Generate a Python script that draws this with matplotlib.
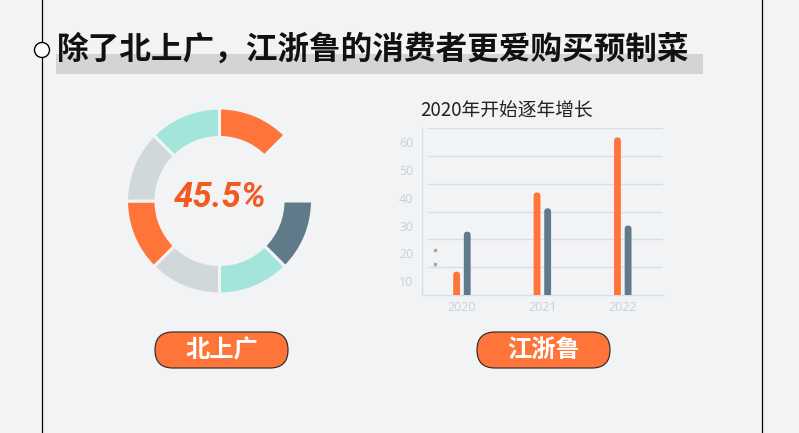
import numpy as np
import matplotlib

matplotlib.use("Agg")
import matplotlib.pyplot as plt
from matplotlib.patches import FancyBboxPatch, Circle, Rectangle
from matplotlib.lines import Line2D

# =====================================================================
# Data
# =====================================================================
TITLE = "除了北上广，江浙鲁的消费者更爱购买预制菜"
DONUT_LABEL = "45.5%"
DONUT_SHARES = [1, 1, 1, 1, 1, 1, 1, 1]
DONUT_KINDS = ["orange", "empty", "slate", "teal", "gray", "orange", "gray", "teal"]
BAR_TITLE = "2020年开始逐年增长"
YEARS = ["2020", "2021", "2022"]
ORANGE_VALUES = [13.4, 41.9, 61.7]
SLATE_VALUES = [27.8, 36.2, 30.0]
Y_TICKS = [10, 20, 30, 40, 50, 60]
GRID_VALUES = [5, 15, 25, 35, 45, 55, 65]
BUTTON_LABELS = ["北上广", "江浙鲁"]

# =====================================================================
# Style
# =====================================================================
BG = "#F2F3F5"
ORANGE = "#FF7438"
SLATE = "#5F7A88"
TEAL = "#A4E5DB"
LGRAY = "#D1D8DC"
AXIS_C = "#D6DEE6"
TICK_C = "#C6D0D9"
KIND_COLORS = {"orange": ORANGE, "slate": SLATE, "teal": TEAL, "gray": LGRAY, "empty": "none"}
CJK = ["Noto Sans CJK SC", "DejaVu Sans"]

W, H = 799, 433
fig = plt.figure(figsize=(W / 100, H / 100), dpi=100, facecolor=BG)

# background canvas in pixel coordinates
bg = fig.add_axes([0, 0, 1, 1])
bg.set_xlim(0, W)
bg.set_ylim(H, 0)
bg.set_facecolor(BG)
bg.axis("off")

bg.axvline(41.5, color="black", lw=0.9, zorder=1)
bg.axvline(761.5, color="black", lw=0.9, zorder=1)
bg.add_patch(Rectangle((56, 54), 647, 20, facecolor="#D4D4D4", edgecolor="none", zorder=1))
bg.text(57, 50, TITLE, fontsize=22.8, fontweight="bold", family=CJK,
        color="#111111", ha="left", va="center", zorder=2)
bg.add_patch(Circle((42, 50), 7.5, facecolor="white", edgecolor="black", lw=1, zorder=3))

bg.text(420, 111, BAR_TITLE, fontsize=13.5, family=CJK, color="#222222",
        ha="left", va="center")

# pill buttons
for cx, label in zip([221.5, 543.5], BUTTON_LABELS):
    bg.add_patch(FancyBboxPatch((cx - 66.5, 332), 133, 36,
                                boxstyle="round,pad=0,rounding_size=18",
                                facecolor=ORANGE, edgecolor="#333333", lw=0.9))
    bg.text(cx, 350, label, fontsize=17.5, fontweight="bold", family=CJK,
            color="white", ha="center", va="center")

# =====================================================================
# Donut
# =====================================================================
dcx, dcy, half = 219.5, 201, 100
ax_d = fig.add_axes([(dcx - half) / W, (H - dcy - half) / H, 2 * half / W, 2 * half / H])
ax_d.pie(DONUT_SHARES, colors=[KIND_COLORS[k] for k in DONUT_KINDS],
         startangle=90, counterclock=False, radius=0.93,
         wedgeprops=dict(width=0.295, edgecolor=BG, linewidth=2.2))
ax_d.set_xlim(-1, 1)
ax_d.set_ylim(-1, 1)
ax_d.axis("off")
ax_d.text(0.01, 0.035, DONUT_LABEL, fontsize=25, fontweight="bold", fontstyle="italic",
          family=["Liberation Sans Narrow", "Roboto", "DejaVu Sans"],
          color="#F25A22", ha="center", va="center")

# =====================================================================
# Bar chart
# =====================================================================
left, right, top, bottom = 421.7, 663, 128.3, 295
ax = fig.add_axes([left / W, (H - bottom) / H, (right - left) / W, (bottom - top) / H])
ax.patch.set_alpha(0)
ax.set_xlim(-0.5, 2.5)
ax.set_ylim(5, 65)

x = np.arange(len(YEARS))
bw, off = 0.085, 0.066
bars = list(ax.bar(x - off, ORANGE_VALUES, bw, color=ORANGE, zorder=3))
bars += list(ax.bar(x + off, SLATE_VALUES, bw, color=SLATE, zorder=3))

xpx = ax.bbox.width / 3.0
ypx = ax.bbox.height / 60.0
for b in bars:
    bx, by, w, h = b.get_x(), b.get_y(), b.get_width(), b.get_height()
    col = b.get_facecolor()
    b.remove()
    ax.add_patch(FancyBboxPatch((bx, by), w, h,
                                boxstyle=f"round,pad=0,rounding_size={w / 2}",
                                mutation_aspect=xpx / ypx,
                                facecolor=col, edgecolor="none", zorder=3))

for v in GRID_VALUES[1:]:
    ax.axhline(v, xmin=0.028, xmax=1, color=AXIS_C, lw=1, zorder=1)

for s in ["top", "right"]:
    ax.spines[s].set_visible(False)
for s in ["left", "bottom"]:
    ax.spines[s].set_color(AXIS_C)
    ax.spines[s].set_linewidth(1)

ax.set_xticks(x)
ax.set_xticklabels(YEARS)
ax.set_yticks(Y_TICKS)
ax.set_yticklabels([str(t) for t in Y_TICKS])
ax.tick_params(length=0, colors=TICK_C, labelsize=9)
ax.tick_params(axis="y", pad=6)
ax.tick_params(axis="x", pad=4)
for lab in ax.get_xticklabels() + ax.get_yticklabels():
    lab.set_family(["Open Sans", "DejaVu Sans"])

# faint legend markers
handles = [Line2D([], [], ls="none", marker="s", markersize=2, color="#A8A8A8") for _ in range(2)]
ax.legend(handles, ["", ""], loc="center", bbox_to_anchor=(0.055, 0.225),
          frameon=False, fontsize=7, handlelength=0.5, handletextpad=0,
          borderpad=0, labelspacing=0.4)

fig.savefig("out.png", dpi=100, facecolor=BG)
